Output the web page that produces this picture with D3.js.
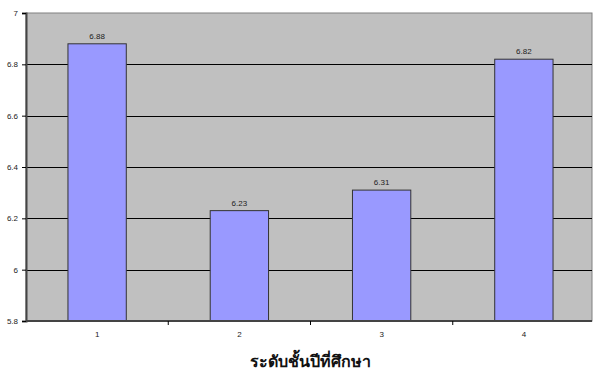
<!DOCTYPE html>
<html lang="th">
  <head>
    <meta charset="UTF-8" />
    <title>ระดับชั้นปีที่ศึกษา</title>
    <script src="https://d3js.org/d3.v7.min.js"></script>
    <style>
      body { margin: 0; background: #fff; }
      .tick text { font: 8px Arial, "Liberation Sans", sans-serif; fill: #222; }
      .barlabel, .xlabel { font: 8px Arial, "Liberation Sans", sans-serif; fill: #222; }
      .xtitle { font: bold 16px Tahoma, "DejaVu Sans", sans-serif; fill: #111; }
    </style>
  </head>
  <body>
    <svg width="593" height="371"></svg>
    <script>
      // data
      var categories = ["1", "2", "3", "4"];
      var values = [6.88, 6.23, 6.31, 6.82];
      var yTicks = [5.8, 6, 6.2, 6.4, 6.6, 6.8, 7];
      var xTitle = "ระดับชั้นปีที่ศึกษา";

      var svg = d3.select("svg");
      // the plot runs a little past the right edge of the picture
      var plotL = 26, plotR = 595, plotT = 13, plotB = 321;

      var x = d3.scaleBand().domain(categories).range([plotL, plotR]).paddingInner(0.59).paddingOuter(0.295);
      var band = d3.scaleBand().domain(categories).range([plotL, plotR]);
      var y = d3.scaleLinear().domain([5.8, 7]).range([plotB, plotT]);

      // plot background
      svg.append("rect")
        .attr("x", plotL).attr("y", plotT)
        .attr("width", 592 - plotL).attr("height", plotB - plotT)
        .attr("fill", "#c0c0c0")
        .attr("stroke", "#808080").attr("stroke-width", 1);

      // gridlines
      svg.append("g").selectAll("line")
        .data(yTicks.slice(1, -1))
        .enter().append("line")
        .attr("x1", plotL).attr("x2", 592)
        .attr("y1", function (d) { return Math.round(y(d)) + 0.5; })
        .attr("y2", function (d) { return Math.round(y(d)) + 0.5; })
        .attr("stroke", "#000").attr("stroke-width", 1);

      // bars
      svg.append("g").selectAll("rect")
        .data(values)
        .enter().append("rect")
        .attr("x", function (d, i) { return x(categories[i]); })
        .attr("y", function (d) { return y(d); })
        .attr("width", x.bandwidth())
        .attr("height", function (d) { return plotB - y(d); })
        .attr("fill", "#9999ff")
        .attr("stroke", "#333").attr("stroke-width", 1);

      // value labels
      svg.append("g").selectAll("text")
        .data(values)
        .enter().append("text")
        .attr("class", "barlabel")
        .attr("x", function (d, i) { return x(categories[i]) + x.bandwidth() / 2; })
        .attr("y", function (d) { return y(d) - 5; })
        .attr("text-anchor", "middle")
        .text(function (d) { return d.toFixed(2); });

      // y axis
      var yAxis = svg.append("g")
        .attr("transform", "translate(" + plotL + ",0)")
        .call(d3.axisLeft(y).tickValues(yTicks).tickSize(4).tickPadding(4)
          .tickFormat(function (d) { return d3.format("~g")(d); }));
      yAxis.select(".domain").attr("stroke", "#444").attr("stroke-width", 2);
      yAxis.selectAll(".tick line").attr("stroke", "#000");

      // x axis
      var xAxis = svg.append("g")
        .attr("transform", "translate(0," + plotB + ")");
      xAxis.append("line")
        .attr("x1", plotL).attr("x2", 592)
        .attr("stroke", "#444").attr("stroke-width", 2);
      xAxis.selectAll(".sep")
        .data(categories.slice(1))
        .enter().append("line")
        .attr("x1", function (d) { return band(d); })
        .attr("x2", function (d) { return band(d); })
        .attr("y1", 0).attr("y2", 4)
        .attr("stroke", "#000");
      xAxis.selectAll(".xlabel")
        .data(categories)
        .enter().append("text")
        .attr("class", "xlabel")
        .attr("x", function (d) { return x(d) + x.bandwidth() / 2; })
        .attr("y", 16)
        .attr("text-anchor", "middle")
        .text(function (d) { return d; });

      svg.append("text")
        .attr("class", "xtitle")
        .attr("x", 310)
        .attr("y", 367)
        .attr("text-anchor", "middle")
        .text(xTitle);
    </script>
  </body>
</html>
